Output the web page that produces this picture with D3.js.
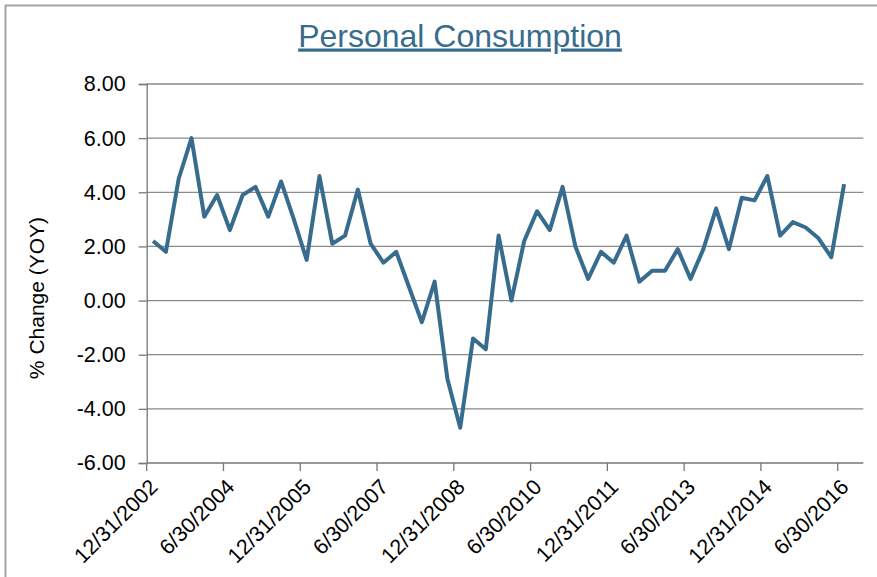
<!doctype html>
<meta charset="utf-8">
<title>Personal Consumption</title>
<script src="https://cdn.jsdelivr.net/npm/d3@7"></script>
<style>
  body { margin: 0; background: #fff; }
  svg text { font-family: "Liberation Sans", Arial, sans-serif; }
</style>
<body>
<svg id="chart" width="877" height="577"></svg>
<script>

// quarter-end dates (category axis)
var quarters = [
  "12/31/2002","3/31/2003","6/30/2003","9/30/2003","12/31/2003","3/31/2004","6/30/2004","9/30/2004",
  "12/31/2004","3/31/2005","6/30/2005","9/30/2005","12/31/2005","3/31/2006","6/30/2006","9/30/2006",
  "12/31/2006","3/31/2007","6/30/2007","9/30/2007","12/31/2007","3/31/2008","6/30/2008","9/30/2008",
  "12/31/2008","3/31/2009","6/30/2009","9/30/2009","12/31/2009","3/31/2010","6/30/2010","9/30/2010",
  "12/31/2010","3/31/2011","6/30/2011","9/30/2011","12/31/2011","3/31/2012","6/30/2012","9/30/2012",
  "12/31/2012","3/31/2013","6/30/2013","9/30/2013","12/31/2013","3/31/2014","6/30/2014","9/30/2014",
  "12/31/2014","3/31/2015","6/30/2015","9/30/2015","12/31/2015","3/31/2016","6/30/2016","9/30/2016"
];

// % change YOY (last quarter has no value)
var consumption = [
  2.2, 1.8, 4.5, 6.0, 3.1, 3.9, 2.6, 3.9, 4.2, 3.1, 4.4, 3.0, 1.5, 4.6, 2.1, 2.4,
  4.1, 2.1, 1.4, 1.8, 0.5, -0.8, 0.7, -2.9, -4.7, -1.4, -1.8, 2.4, 0.0, 2.2, 3.3, 2.6,
  4.2, 2.0, 0.8, 1.8, 1.4, 2.4, 0.7, 1.1, 1.1, 1.9, 0.8, 1.9, 3.4, 1.9, 3.8, 3.7,
  4.6, 2.4, 2.9, 2.7, 2.3, 1.6, 4.3, null
];

var yTicks = [-6, -4, -2, 0, 2, 4, 6, 8];
var xTickLabels = ["12/31/2002","6/30/2004","12/31/2005","6/30/2007","12/31/2008",
                   "6/30/2010","12/31/2011","6/30/2013","12/31/2014","6/30/2016"];

var svg = d3.select("#chart");
var plotLeft = 146.7, plotRight = 863.3, plotTop = 84, plotBottom = 463;
var lineColor = "#386c8e";

// outer frame (only top/left edges visible in the picture)
svg.append("rect")
    .attr("x", 5.5).attr("y", 5.5)
    .attr("width", 900).attr("height", 600)
    .attr("fill", "none")
    .attr("stroke", "#a3a3a3")
    .attr("stroke-width", 2);

var x = d3.scaleBand().domain(quarters).range([plotLeft, plotRight]).padding(0);
var y = d3.scaleLinear().domain([-6, 8]).range([plotBottom, plotTop]);

// gridlines
svg.append("g")
  .selectAll("line")
  .data(yTicks.filter(function(d) { return d > -6; }))
  .enter().append("line")
    .attr("x1", plotLeft).attr("x2", plotRight)
    .attr("y1", function(d) { return y(d); })
    .attr("y2", function(d) { return y(d); })
    .attr("stroke", "#8a8a8a")
    .attr("stroke-width", 1.3);

// y axis (plain hyphen for negatives, like the original)
var fmt = d3.format(".2f");
var yAxis = svg.append("g")
    .attr("transform", "translate(" + plotLeft + ",0)")
    .call(d3.axisLeft(y).tickValues(yTicks)
      .tickFormat(function(d) { return fmt(d).replace("\u2212", "-"); })
      .tickSize(8).tickPadding(13));
yAxis.select(".domain").attr("stroke", "#777").attr("stroke-width", 1.3);
yAxis.selectAll(".tick line").attr("stroke", "#777").attr("stroke-width", 1.3);
yAxis.selectAll("text")
    .attr("font-size", 21.5)
    .attr("fill", "#000")
    .attr("font-family", "Liberation Sans, Arial, sans-serif");

// x axis: ticks on the category boundaries, every 6 quarters
var xAxis = svg.append("g").attr("transform", "translate(0," + plotBottom + ")");
xAxis.append("line")
    .attr("x1", plotLeft).attr("x2", plotRight)
    .attr("stroke", "#777").attr("stroke-width", 1.3);
var xt = xAxis.selectAll("g.xtick")
  .data(xTickLabels)
  .enter().append("g")
    .attr("class", "xtick")
    .attr("transform", function(d) { return "translate(" + x(d) + ",0)"; });
xt.append("line")
    .attr("y1", 0).attr("y2", 8)
    .attr("stroke", "#777").attr("stroke-width", 1.3);
xt.append("text")
    .attr("transform", "translate(7,20) rotate(-45)")
    .attr("text-anchor", "end")
    .attr("dy", "0.35em")
    .attr("font-size", 21.5)
    .attr("fill", "#000")
    .text(function(d) { return d; });

// series line
var line = d3.line()
    .defined(function(d) { return d != null; })
    .x(function(d, i) { return x(quarters[i]) + x.bandwidth() / 2; })
    .y(function(d) { return y(d); });

svg.append("path")
    .datum(consumption)
    .attr("d", line)
    .attr("fill", "none")
    .attr("stroke", lineColor)
    .attr("stroke-width", 4)
    .attr("stroke-linejoin", "round");

// y axis title
svg.append("text")
    .attr("transform", "translate(44,298) rotate(-90)")
    .attr("text-anchor", "middle")
    .attr("font-size", 21)
    .attr("fill", "#000")
    .text("% Change (YOY)");

// title
svg.append("text")
    .attr("x", 460).attr("y", 46.5)
    .attr("text-anchor", "middle")
    .attr("font-size", 32)
    .attr("fill", lineColor)
    .attr("text-decoration", "underline")
    .text("Personal Consumption");

</script>
</body>
